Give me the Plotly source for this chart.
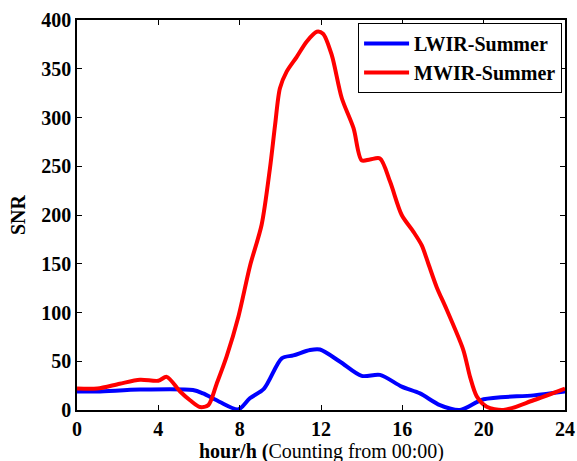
import plotly.graph_objects as go

# LWIR-Summer
lw_hour = [0, 1, 3.1, 5.7, 6.2, 7.0, 7.94, 8.5, 9.2, 10.07, 10.64, 11.46, 11.95, 12.94, 14.0, 14.9, 15.97, 16.87, 17.85, 18.84, 20.0, 22.45, 24]
lw_snr = [19, 19, 21, 20.5, 17, 8.5, 0.7, 12, 22, 53, 56, 61.5, 62, 49.5, 35, 36, 24, 17, 5, 0, 11, 15, 19]

# MWIR-Summer
mw_hour = [0, 1, 2.1, 3.1, 4.0, 4.41, 5.07, 5.56, 6.05, 6.46, 6.87, 7.36, 7.94, 8.51, 9.08, 9.49, 9.74, 9.98,
           10.31, 10.8, 11.3, 11.79, 12.1, 12.53, 13.02, 13.6, 14.0, 14.41, 14.9, 15.4, 15.97, 16.54, 16.95,
           17.28, 17.69, 18.18, 19.0, 19.33, 19.66, 20.15, 20.97, 22.45, 24]
mw_snr = [22, 22, 27, 31, 30, 34, 19, 10, 3, 5, 27, 55, 96, 148, 190, 248, 292, 330,
          347, 362, 378, 388, 386, 364, 320, 289, 256, 257, 258, 234, 200, 183, 169,
          150, 126, 103, 61.5, 34, 14, 3.4, 0, 10, 22]

x_ticks = [0, 4, 8, 12, 16, 20, 24]
y_ticks = [0, 50, 100, 150, 200, 250, 300, 350, 400]
x_title = "<b>hour/h (</b>Counting from 00:00)"
y_title = "<b>SNR</b>"

FONT = "Liberation Serif"
FS = 20

fig = go.Figure()
fig.add_trace(go.Scatter(x=lw_hour, y=lw_snr, mode="lines", name="<b>LWIR-Summer</b>",
                         line=dict(color="#0000ff", width=4, shape="spline", smoothing=0.8)))
fig.add_trace(go.Scatter(x=mw_hour, y=mw_snr, mode="lines", name="<b>MWIR-Summer</b>",
                         line=dict(color="#ff0000", width=4, shape="spline", smoothing=0.8)))

axis_common = dict(
    showgrid=False, zeroline=False, showline=True, linecolor="black", linewidth=1.5,
    mirror="ticks", ticks="inside", ticklen=5, tickcolor="black", automargin=False,
    tickfont=dict(family=FONT, size=FS, color="black", weight="bold"),
)

fig.update_layout(
    width=577, height=461,
    margin=dict(l=77, r=12, t=20, b=51, autoexpand=False),
    paper_bgcolor="white", plot_bgcolor="white",
    font=dict(family=FONT, color="black"),
    showlegend=True,
    legend=dict(x=0.994, y=0.992, xanchor="right", yanchor="top",
                bordercolor="black", borderwidth=1, bgcolor="white",
                font=dict(family=FONT, size=FS, color="black"),
                tracegroupgap=0, itemwidth=45),
    xaxis=dict(range=[0, 24], tickvals=x_ticks, ticktext=[str(v) for v in x_ticks], **axis_common),
    yaxis=dict(range=[0, 400], tickvals=y_ticks, ticktext=[str(v) for v in y_ticks], **axis_common),
    annotations=[
        dict(text=x_title, x=0.5, y=0, xref="paper", yref="paper",
             xanchor="center", yanchor="top", yshift=-28, showarrow=False,
             font=dict(family=FONT, size=FS, color="black")),
        dict(text=y_title, x=0, y=0.5, xref="paper", yref="paper", textangle=-90,
             xanchor="center", yanchor="middle", xshift=-59, showarrow=False,
             font=dict(family=FONT, size=FS, color="black")),
    ],
)

fig.write_html("out.html", config={"displayModeBar": False},
               post_script="document.body.style.margin='0';document.body.style.overflow='hidden';")
